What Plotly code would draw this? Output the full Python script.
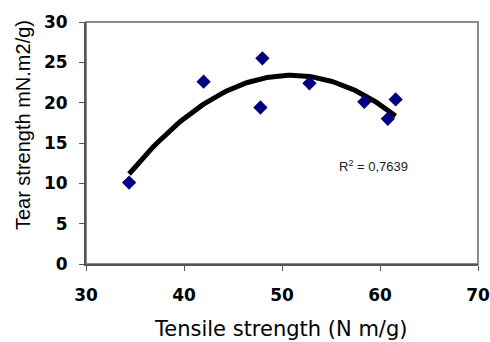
import numpy as np
import plotly.graph_objects as go

tensile = [34.4, 42.0, 48.0, 47.8, 52.8, 58.4, 60.8, 61.6]
tear = [10.1, 22.6, 25.5, 19.4, 22.4, 20.1, 18.0, 20.4]
x_ticks = [30, 40, 50, 60, 70]
y_ticks = [0, 5, 10, 15, 20, 25, 30]
x_title = "Tensile strength (N m/g)"
y_title = "Tear strength mN.m2/g)"
r2_label = "R<sup>2</sup> = 0,7639"

coef = np.polyfit(tensile, tear, 2)
xf = np.linspace(min(tensile), max(tensile), 100)
yf = np.polyval(coef, xf)

fig = go.Figure()
fig.add_trace(go.Scatter(x=xf, y=yf, mode="lines",
                         line=dict(color="black", width=5), hoverinfo="skip"))
fig.add_trace(go.Scatter(x=tensile, y=tear, mode="markers",
                         marker=dict(symbol="diamond", color="#000080", size=11)))

fig.add_annotation(x=59.3, y=12.1, text=r2_label, showarrow=False,
                   font=dict(family="Liberation Sans, Arial", size=13, color="#222"))
fig.add_annotation(xref="paper", yref="paper", x=-0.1607, y=0.574, text=y_title,
                   textangle=-90, showarrow=False, xanchor="center", yanchor="middle",
                   font=dict(family="Liberation Sans, Arial", size=20, color="black"))
fig.add_annotation(xref="paper", yref="paper", x=0.496, y=-0.2686, text=x_title,
                   showarrow=False, xanchor="center", yanchor="middle",
                   font=dict(family="DejaVu Sans", size=21, color="black"))

tickfont = dict(size=17, family="DejaVu Sans", weight="bold", color="black")
fig.update_layout(
    width=490, height=342,
    margin=dict(l=86, r=12, t=22, b=78, autoexpand=False),
    paper_bgcolor="white", plot_bgcolor="white",
    showlegend=False,
    font=dict(family="Liberation Sans, Arial", color="black"),
    shapes=[dict(type="rect", xref="paper", yref="paper", x0=0, y0=0, x1=1, y1=1,
                 line=dict(color="#8c8c8c", width=2), layer="below")],
)
fig.update_xaxes(range=[30, 70], tickvals=x_ticks, showgrid=False, zeroline=False,
                 automargin=False,
                 showline=True, linecolor="#555", linewidth=2,
                 ticks="outside", ticklen=5, tickcolor="#555",
                 tickfont=tickfont, ticklabelstandoff=10)
fig.update_yaxes(range=[0, 30], tickvals=y_ticks, showgrid=False, zeroline=False,
                 automargin=False,
                 showline=True, linecolor="#555", linewidth=2,
                 ticks="outside", ticklen=5, tickcolor="#555",
                 tickfont=tickfont, ticklabelstandoff=8)

fig.write_html("out.html", config={"displayModeBar": False},
               post_script="document.body.style.margin='0';")
